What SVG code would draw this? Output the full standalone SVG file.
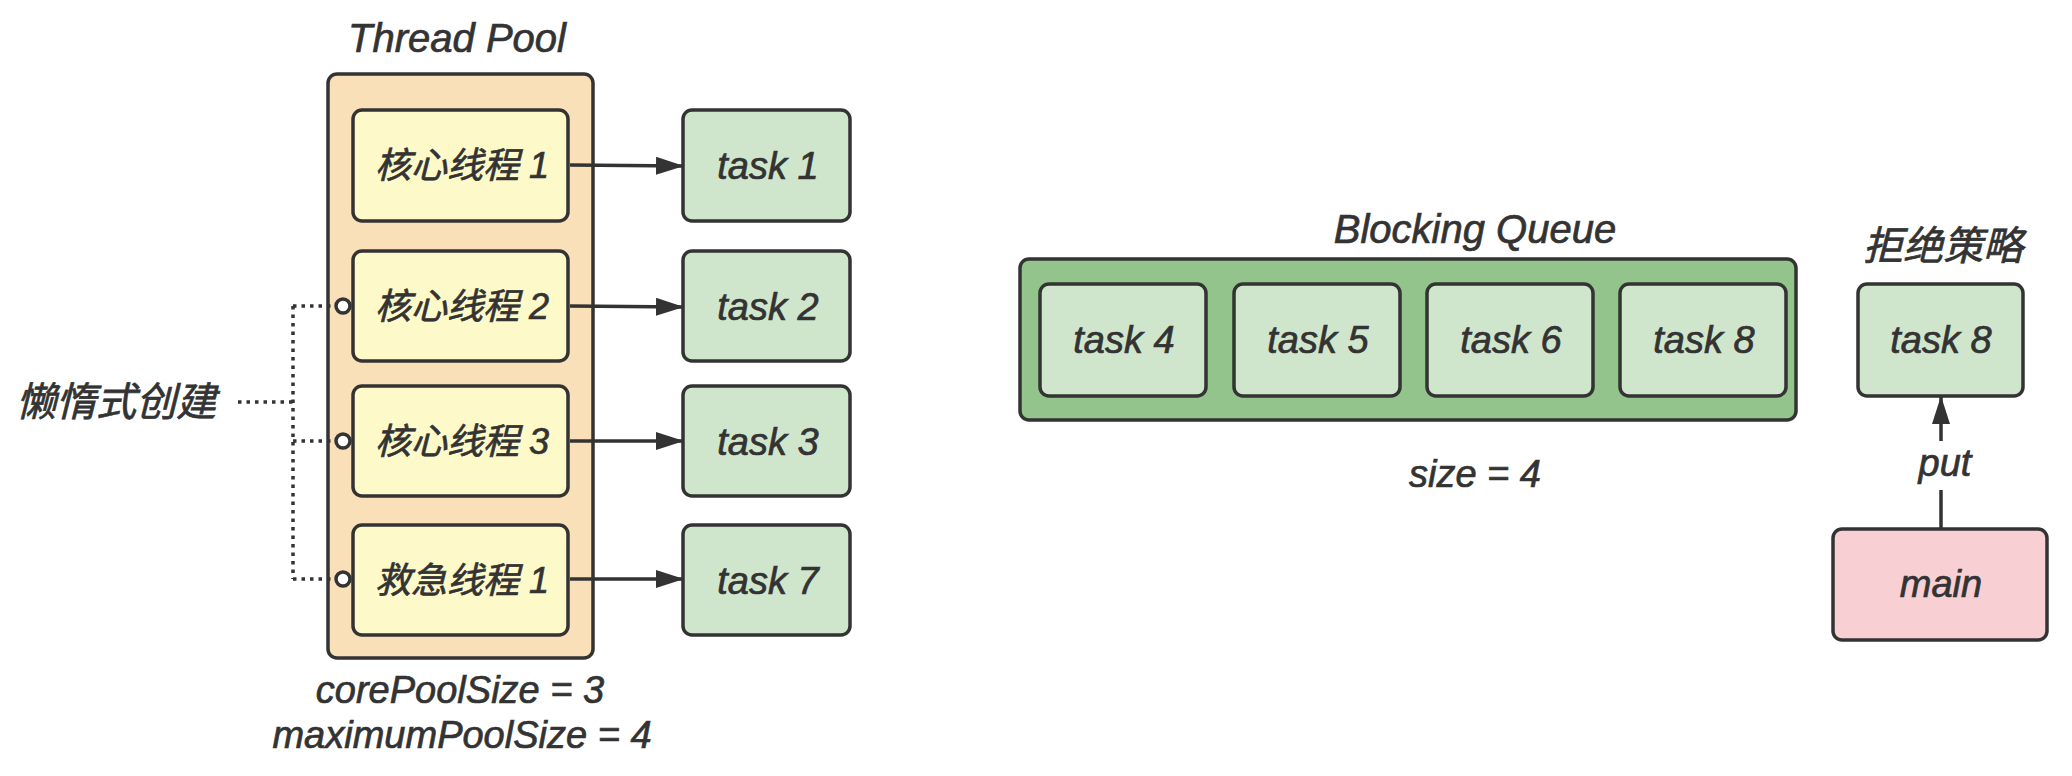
<svg xmlns="http://www.w3.org/2000/svg" width="2072" height="776" viewBox="0 0 2072 776">
<defs>
<style>
.t{font-family:"Liberation Sans","Noto Sans CJK SC",sans-serif;font-style:italic;font-size:38px;fill:#333333;stroke:#333333;stroke-width:0.7;text-anchor:middle}
.c{font-family:"Liberation Sans","Noto Sans CJK SC",sans-serif;font-style:italic;font-size:36px;fill:#333333;stroke:#333333;stroke-width:0.7;text-anchor:middle}
.h{font-size:40px}
.box{stroke:#333333;stroke-width:3.5}
.pool{fill:#fae0b8}
.thr{fill:#fef9c9}
.task{fill:#d0e6cc}
.queue{fill:#93c48b}
.main{fill:#f8d0d4}
.arr{stroke:#333333;stroke-width:3.5;fill:none;marker-end:url(#ah)}
.dot{stroke:#333333;stroke-width:3.5;fill:none;stroke-dasharray:3.5 5}
.ring{fill:#ffffff;stroke:#333333;stroke-width:3.5}
</style>
<marker id="ah" markerUnits="userSpaceOnUse" markerWidth="28" markerHeight="18" refX="27" refY="9" orient="auto">
<path d="M0,0 L28,9 L0,18 Z" fill="#333333"/>
</marker>
</defs>
<rect width="2072" height="776" fill="#ffffff"/>

<g id="thread-pool">
<text class="t h" x="457" y="52">Thread Pool</text>
<rect class="box pool" x="328" y="74" width="265" height="584" rx="9"/>
<text class="t" x="460" y="703">corePoolSize = 3</text>
<text class="t" x="462" y="748">maximumPoolSize = 4</text>
</g>

<g id="core1"><rect class="box thr" x="353" y="110" width="215" height="111" rx="9"/><text class="c" x="462" y="178">核心线程 1</text></g>
<g id="core2"><rect class="box thr" x="353" y="251" width="215" height="110" rx="9"/><text class="c" x="462" y="319">核心线程 2</text></g>
<g id="core3"><rect class="box thr" x="353" y="386" width="215" height="110" rx="9"/><text class="c" x="462" y="454">核心线程 3</text></g>
<g id="rescue1"><rect class="box thr" x="353" y="525" width="215" height="110" rx="9"/><text class="c" x="462" y="593">救急线程 1</text></g>

<g id="task1"><rect class="box task" x="683" y="110" width="167" height="111" rx="9"/><text class="t" x="768" y="179">task 1</text></g>
<g id="task2"><rect class="box task" x="683" y="251" width="167" height="110" rx="9"/><text class="t" x="768" y="320">task 2</text></g>
<g id="task3"><rect class="box task" x="683" y="386" width="167" height="110" rx="9"/><text class="t" x="768" y="455">task 3</text></g>
<g id="task7"><rect class="box task" x="683" y="525" width="167" height="110" rx="9"/><text class="t" x="768" y="594">task 7</text></g>

<g id="lazy">
<text class="t h" x="116" y="416">懒惰式创建</text>
</g>

<g id="blocking-queue">
<text class="t h" x="1475" y="243">Blocking Queue</text>
<rect class="box queue" x="1020" y="259" width="776" height="161" rx="9"/>
<text class="t" x="1475" y="487">size = 4</text>
</g>
<g id="task4"><rect class="box task" x="1040" y="284" width="166" height="112" rx="9"/><text class="t" x="1124" y="353">task 4</text></g>
<g id="task5"><rect class="box task" x="1234" y="284" width="166" height="112" rx="9"/><text class="t" x="1318" y="353">task 5</text></g>
<g id="task6"><rect class="box task" x="1427" y="284" width="166" height="112" rx="9"/><text class="t" x="1511" y="353">task 6</text></g>
<g id="task8q"><rect class="box task" x="1620" y="284" width="166" height="112" rx="9"/><text class="t" x="1704" y="353">task 8</text></g>

<g id="reject">
<text class="t h" x="1943" y="260">拒绝策略</text>
</g>
<g id="task8r"><rect class="box task" x="1858" y="284" width="165" height="112" rx="9"/><text class="t" x="1941" y="353">task 8</text></g>
<g id="main"><rect class="box main" x="1833" y="529" width="214" height="111" rx="9"/><text class="t" x="1941" y="597">main</text></g>

<g id="connectors">
<line class="arr" x1="570" y1="165" x2="683" y2="166"/>
<line class="arr" x1="570" y1="306" x2="683" y2="307"/>
<line class="arr" x1="570" y1="441" x2="683" y2="441"/>
<line class="arr" x1="570" y1="579" x2="683" y2="579"/>
<path class="dot" d="M238,402 H293 M293,306 V579 M293,306 H335 M293,441 H335 M293,579 H335"/>
<circle class="ring" cx="343" cy="306" r="7"/>
<circle class="ring" cx="343" cy="441" r="7"/>
<circle class="ring" cx="343" cy="579" r="7"/>
<path class="arr" d="M1941,529 V490 M1941,441 V397"/>
<text class="t" x="1945" y="476">put</text>
</g>
</svg>
